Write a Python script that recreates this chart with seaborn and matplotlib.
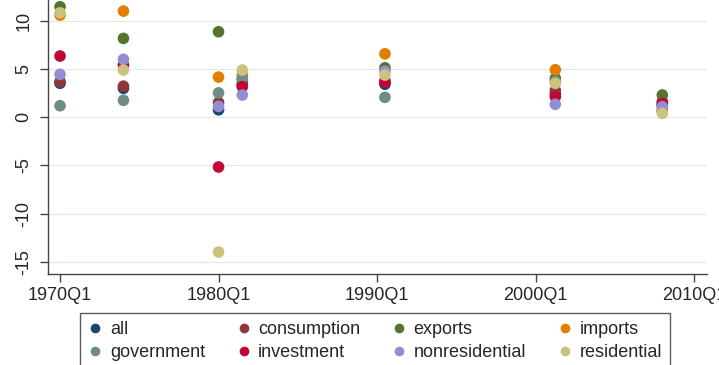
import pandas as pd
import seaborn as sns
import matplotlib.pyplot as plt
from matplotlib.lines import Line2D

# recession start dates and growth by component
quarters = ['1970Q1', '1974Q1', '1980Q1', '1981Q3', '1990Q3', '2001Q2', '2008Q1']

all_vals = [3.5, 2.97, 0.75, 3.3, 3.4, 2.4, 1.2]
consumption = [3.66, 3.2, 1.5, 3.5, 3.75, 2.75, 1.6]
exports = [11.43, 8.15, 8.84, 3.9, 5.1, 4.0, 2.28]
imports = [10.57, 10.98, 4.14, 4.35, 6.55, 4.9, 0.6]
government = [1.17, 1.73, 2.5, 4.0, 2.04, 3.7, 0.7]
investment = [6.32, 5.39, -5.18, 3.14, 3.6, 2.1, 1.4]
nonresidential = [4.42, 5.98, 1.1, 2.28, 4.75, 1.32, 1.07]
residential = [10.8, 4.87, -14.0, 4.87, 4.35, 3.49, 0.38]

series_names = ['all', 'consumption', 'exports', 'imports',
                'government', 'investment', 'nonresidential', 'residential']
series_vals = [all_vals, consumption, exports, imports,
               government, investment, nonresidential, residential]
colors = ['#1a476f', '#90353b', '#55752f', '#e37e00',
          '#6e8e84', '#c10534', '#938dd2', '#cac27e']

xticks = ['1970Q1', '1980Q1', '1990Q1', '2000Q1', '2010Q1']
yticks = [-15, -10, -5, 0, 5, 10]


def q_to_num(q):
    p = pd.Period(q, freq='Q')
    return p.year + (p.quarter - 1) / 4.0


rows = []
for name, vals in zip(series_names, series_vals):
    for q, v in zip(quarters, vals):
        rows.append({'date': q_to_num(q), 'growth': v, 'component': name})
df = pd.DataFrame(rows)

sns.set_style("white")
plt.rcParams['font.family'] = ['Liberation Sans', 'DejaVu Sans']

fig = plt.figure(figsize=(7.19, 3.65), dpi=100)
ax = fig.add_axes([48 / 719, 1 - 274 / 365, (707 - 48) / 719, 274 / 365])

for y in yticks:
    ax.axhline(y, color='#e4e8eb', lw=0.9, zorder=0)

palette = dict(zip(series_names, colors))
sns.scatterplot(data=df, x='date', y='growth', hue='component', palette=palette,
                hue_order=series_names, s=70, edgecolor='none', linewidth=0,
                legend=False, ax=ax, zorder=3)

ax.set_xlim(1969.24, 2010.82)
ax.set_ylim(-16.27, 12.13)
ax.set_xticks([q_to_num(q) for q in xticks])
ax.set_xticklabels(xticks, fontsize=13)
ax.set_yticks(yticks)
ax.set_yticklabels([str(t) for t in yticks], fontsize=13, rotation=90, va='center')
ax.set_xlabel('')
ax.set_ylabel('')

for side in ['top', 'right']:
    ax.spines[side].set_visible(False)
for side in ['left', 'bottom']:
    ax.spines[side].set_color('#444444')
    ax.spines[side].set_linewidth(1.0)
ax.tick_params(axis='both', direction='out', length=6, width=1.0, color='#444444',
               left=True, bottom=True)
ax.tick_params(axis='y', pad=5)
ax.tick_params(axis='x', pad=3)

# legend fills column by column, so interleave to read row-wise
order = [0, 4, 1, 5, 2, 6, 3, 7]
handles = [Line2D([0], [0], marker='o', linestyle='', markersize=7,
                  markerfacecolor=colors[i], markeredgecolor='none') for i in order]
labels = [series_names[i] for i in order]
leg = fig.legend(handles, labels, ncol=4, loc='upper left',
                 bbox_to_anchor=(80 / 719, 1 - 313 / 365), fontsize=13,
                 frameon=True, fancybox=False, handlelength=0.8,
                 handletextpad=0.4, columnspacing=1.75, labelspacing=0.35,
                 borderpad=0.45, borderaxespad=0)
leg.get_frame().set_edgecolor('#333333')
leg.get_frame().set_linewidth(1.0)

fig.savefig('out.png', dpi=100)
